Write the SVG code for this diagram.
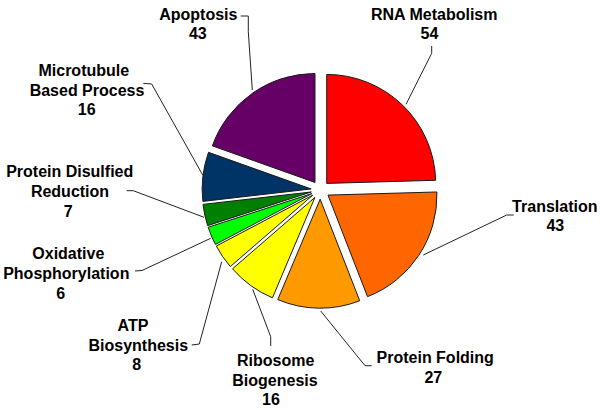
<svg xmlns="http://www.w3.org/2000/svg" width="600" height="410" viewBox="0 0 600 410">
<style>
.s{stroke:#1a1a1a;stroke-width:1;stroke-linejoin:round}
.t{font-family:"Liberation Sans",Arial,sans-serif;font-weight:bold;font-size:16px;fill:#000;text-anchor:middle}
.c{fill:none;stroke:#222;stroke-width:1}
</style>
<rect width="600" height="410" fill="#fff"/>
<g id="connectors">
<polyline class="c" points="431.7,46 431.7,53.3 406,104.3"/>
<polyline class="c" points="513.7,215 506.7,215 423.3,255"/>
<polyline class="c" points="371.7,365.7 365,365.7 320.7,311"/>
<polyline class="c" points="270.7,346 270.7,336.7 252.7,289.3"/>
<polyline class="c" points="191.7,345 199.3,344 221.7,261.7"/>
<polyline class="c" points="135,271 142,270.5 210.7,238.3"/>
<polyline class="c" points="126.7,190.7 133.3,190.7 204,217.3"/>
<polyline class="c" points="143.3,83.3 151.7,84 202.7,175"/>
<polyline class="c" points="240.7,16 248.3,16 248.3,31.7 252.3,90"/>
</g>
<g id="rna-metabolism">
<path class="s" fill="#FF0000" d="M326.71,183.40 L326.71,74.40 A109,109 0 0 1 435.67,180.29 Z"/>
<text class="t" x="434.2" y="19.5">RNA Metabolism</text>
<text class="t" x="429.5" y="38.5">54</text>
</g>
<g id="translation">
<path class="s" fill="#FF6600" d="M327.97,195.08 L436.93,191.97 A109,109 0 0 1 367.52,296.66 Z"/>
<text class="t" x="554.8" y="211.7">Translation</text>
<text class="t" x="555.3" y="230.7">43</text>
</g>
<g id="protein-folding">
<path class="s" fill="#FF9900" d="M320.17,199.20 L359.72,300.78 A109,109 0 0 1 277.74,299.60 Z"/>
<text class="t" x="435.2" y="362.7">Protein Folding</text>
<text class="t" x="433.3" y="382.7">27</text>
</g>
<g id="ribosome-biogenesis">
<path class="s" fill="#FFFF00" d="M314.89,197.44 L272.46,297.84 A109,109 0 0 1 232.52,268.82 Z"/>
<text class="t" x="275.7" y="366">Ribosome</text>
<text class="t" x="275" y="386">Biogenesis</text>
<text class="t" x="271" y="405">16</text>
</g>
<g id="atp-biosynthesis">
<path class="s" fill="#FFFF00" d="M312.71,195.19 L230.34,266.57 A109,109 0 0 1 216.30,246.05 Z"/>
<text class="t" x="133" y="331">ATP</text>
<text class="t" x="138.3" y="350.7">Biosynthesis</text>
<text class="t" x="136.7" y="370">8</text>
</g>
<g id="oxidative-phosphorylation">
<path class="s" fill="#00FF00" d="M311.83,193.58 L215.42,244.44 A109,109 0 0 1 208.16,227.26 Z"/>
<text class="t" x="68.3" y="259.3">Oxidative</text>
<text class="t" x="66.3" y="279.3">Phosphorylation</text>
<text class="t" x="60.8" y="299.3">6</text>
</g>
<g id="protein-disulfied-reduction">
<path class="s" fill="#008000" d="M311.31,191.96 L207.64,225.64 A109,109 0 0 1 203.02,204.39 Z"/>
<text class="t" x="69.7" y="176.7">Protein Disulfied</text>
<text class="t" x="70" y="196.7">Reduction</text>
<text class="t" x="68.3" y="216.7">7</text>
</g>
<g id="microtubule-based-process">
<path class="s" fill="#003366" d="M311.16,188.95 L202.87,201.38 A109,109 0 0 1 208.50,152.33 Z"/>
<text class="t" x="83.8" y="76">Microtubule</text>
<text class="t" x="87" y="96">Based Process</text>
<text class="t" x="86.7" y="115">16</text>
</g>
<g id="apoptosis">
<path class="s" fill="#660066" d="M315.0,182.48 L212.34,145.86 A109,109 0 0 1 315.0,73.48 Z"/>
<text class="t" x="198.3" y="20.3">Apoptosis</text>
<text class="t" x="197.8" y="39.3">43</text>
</g>
</svg>
